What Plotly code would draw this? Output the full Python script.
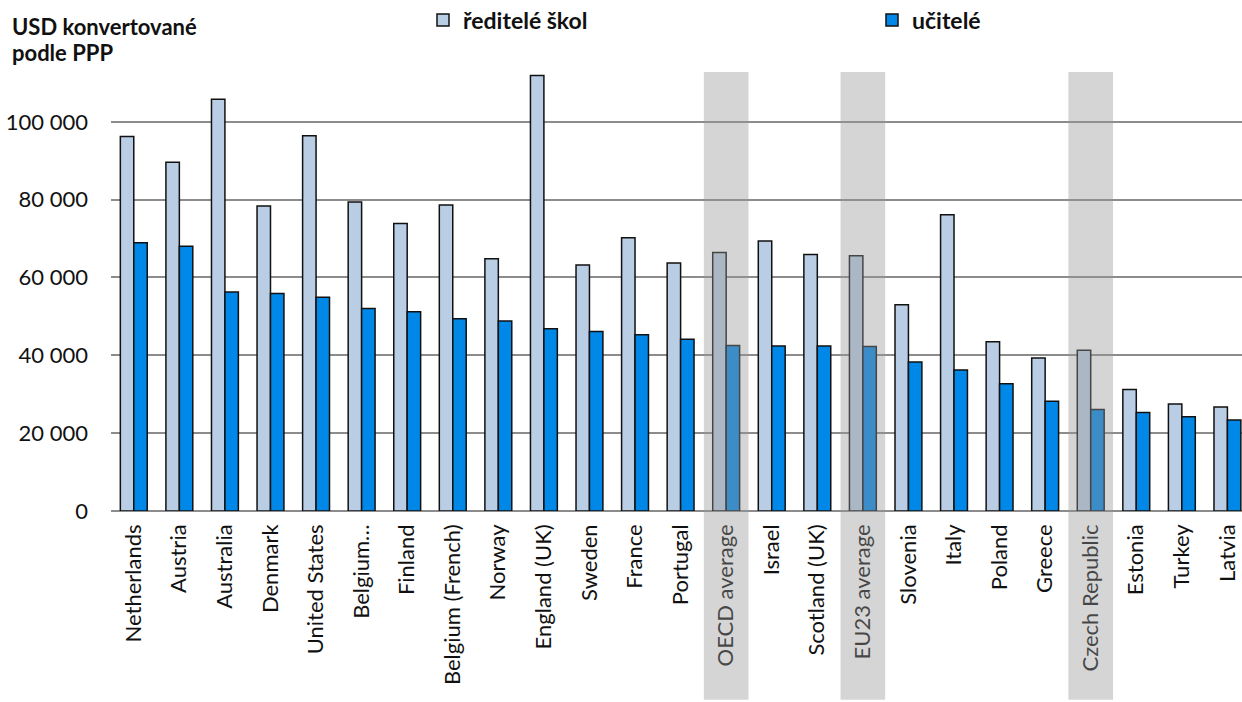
import plotly.graph_objects as go

# Annual statutory salaries, USD converted using PPP
countries = [
    "Netherlands", "Austria", "Australia", "Denmark", "United States",
    "Belgium…", "Finland", "Belgium (French)", "Norway", "England (UK)",
    "Sweden", "France", "Portugal", "OECD average", "Israel",
    "Scotland (UK)", "EU23 average", "Slovenia", "Italy", "Poland",
    "Greece", "Czech Republic", "Estonia", "Turkey", "Latvia",
]
principals = [
    96200, 89600, 105800, 78400, 96400,
    79400, 73900, 78600, 64800, 111900,
    63200, 70200, 63700, 66400, 69400,
    65900, 65600, 53000, 76100, 43500,
    39300, 41300, 31200, 27500, 26700,
]
teachers = [
    68900, 68000, 56300, 55900, 54900,
    52000, 51200, 49400, 48800, 46800,
    46100, 45300, 44100, 42500, 42400,
    42400, 42300, 38300, 36200, 32700,
    28200, 26100, 25300, 24200, 23400,
]
highlighted = ["OECD average", "EU23 average", "Czech Republic"]

FONT = "Lato, 'Open Sans', sans-serif"
LIGHT = "#B9CDE5"
BLUE = "#0088E8"

fig = go.Figure()
fig.add_trace(go.Bar(
    name="ředitelé škol", x=countries, y=principals, legend="legend",
    marker=dict(color=LIGHT, line=dict(color="#111111", width=1.5)),
))
fig.add_trace(go.Bar(
    name="učitelé", x=countries, y=teachers, legend="legend2",
    marker=dict(color=BLUE, line=dict(color="#111111", width=1.5)),
))

# grey bands over the aggregate / Czech columns, running down over the labels
for name in highlighted:
    i = countries.index(name)
    fig.add_shape(
        type="rect", xref="x", yref="paper",
        x0=i - 0.49, x1=i + 0.49, y0=-0.43, y1=1.0,
        fillcolor="rgba(150,150,150,0.40)", line=dict(width=0),
        layer="above",
    )

# two-line unit caption in the top-left corner
PLOT_TOP, PLOT_H = 72, 439
for text, ypix in (("USD konvertované", 27), ("podle PPP", 52)):
    fig.add_annotation(
        text=f"<b>{text}</b>",
        xref="paper", yref="paper", x=-0.0895, y=1 + (PLOT_TOP - ypix) / PLOT_H,
        xanchor="left", yanchor="middle", align="left", showarrow=False,
        font=dict(family=FONT, size=22, color="#111111"),
    )

legend_style = dict(
    orientation="h", yanchor="middle", xanchor="left",
    font=dict(family=FONT, size=23, color="#111111", weight="bold"),
    bgcolor="rgba(0,0,0,0)", itemwidth=30,
)
ylegend = 1 + (PLOT_TOP - 20) / PLOT_H

fig.update_layout(
    width=1242, height=702,
    margin=dict(l=111, r=0, t=PLOT_TOP, b=702 - PLOT_TOP - PLOT_H, autoexpand=False),
    paper_bgcolor="white", plot_bgcolor="white",
    barmode="group", bargap=0.41, bargroupgap=0.0,
    separators=", ",
    font=dict(family=FONT, size=22, color="#111111"),
    showlegend=True,
    legend=dict(x=(423 - 111) / 1131, y=ylegend, **legend_style),
    legend2=dict(x=(872 - 111) / 1131, y=ylegend, **legend_style),
    xaxis=dict(
        type="category", range=[-0.5, 24.32],
        tickangle=-90, showgrid=False, showline=False,
        ticks="", ticklabelstandoff=8,
        tickfont=dict(family=FONT, size=22, color="#111111"),
    ),
    yaxis=dict(
        range=[0, 112800], tickvals=[0, 20000, 40000, 60000, 80000, 100000],
        tickformat=",d", showgrid=True, gridcolor="#8C8C8C", gridwidth=1.5,
        zeroline=True, zerolinecolor="#8C8C8C", zerolinewidth=1.5,
        showline=False, ticks="", ticklabelstandoff=22,
        tickfont=dict(family=FONT, size=22, color="#111111"),
    ),
)

fig.write_html("out.html")
